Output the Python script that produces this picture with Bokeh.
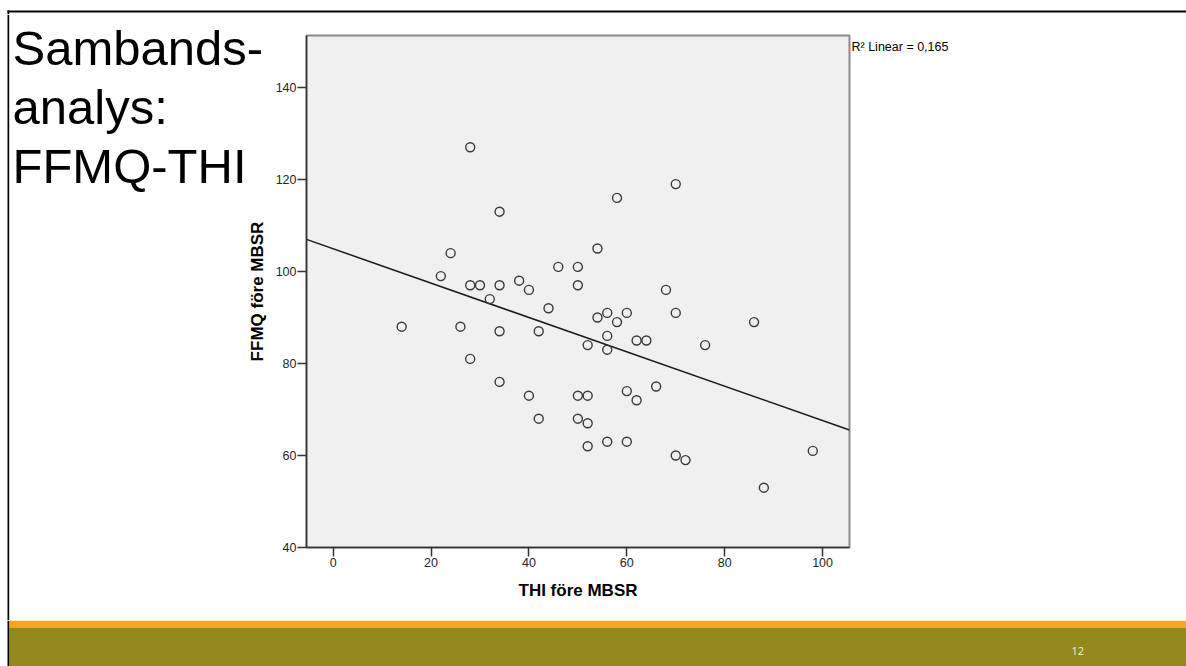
import numpy as np
from bokeh.plotting import figure
from bokeh.layouts import row, column
from bokeh.models import Range1d, FixedTicker, ColumnDataSource
from bokeh.core.properties import value
from bokeh.embed import file_html
from bokeh.resources import INLINE

# ---- data ----
thi = [28, 34, 24, 22, 28, 30, 34, 32, 38, 40,
       44, 14, 26, 34, 42, 28, 34, 40, 42,
       70, 58, 54, 46, 50, 50, 68, 54, 56, 58, 60,
       70, 86, 56, 62, 64, 52, 56, 76, 66, 60, 62,
       50, 52, 50, 52, 56, 60, 52, 70, 72, 98, 88]
ffmq = [127, 113, 104, 99, 97, 97, 97, 94, 98, 96,
        92, 88, 88, 87, 87, 81, 76, 73, 68,
        119, 116, 105, 101, 101, 97, 96, 90, 91, 89, 91,
        91, 89, 86, 85, 85, 84, 83, 84, 75, 74, 72,
        73, 73, 68, 67, 63, 63, 62, 60, 59, 61, 53]
x_ticks = [0, 20, 40, 60, 80, 100]
y_ticks = [40, 60, 80, 100, 120, 140]
x_title = "THI före MBSR"
y_title = "FFMQ före MBSR"
r2_text = "R² Linear = 0,165"
slide_title = ["Sambands-", "analys:", "FFMQ-THI"]
page_number = "12"

FONT = "Liberation Sans"
X_LO, X_HI = -5.45, 105.5
Y_LO, Y_HI = 40, 151.3

TOTAL_W = 1186
TOP_H, MID_H, BOT_H = 14, 606, 46
L_W, M_W = 272, 579
R_W = TOTAL_W - L_W - M_W

ORANGE = "#fba51c"
OLIVE = "#93891c"


def no_align(f):
    if "frame_align" in f.properties():
        f.frame_align = False
    return f


def blank(w, h):
    f = figure(width=w, height=h, output_backend="svg", toolbar_location=None,
               x_range=Range1d(0, w), y_range=Range1d(0, h),
               x_axis_location=None, y_axis_location=None, min_border=0)
    f.outline_line_color = None
    f.background_fill_color = "white"
    f.border_fill_color = "white"
    f.grid.visible = False
    return no_align(f)


# ---- top strip: slide border ----
top = blank(TOTAL_W, TOP_H)
top.quad(left=7, right=TOTAL_W, bottom=2, top=4, fill_color="black", line_color=None)
top.quad(left=7, right=8.7, bottom=0, top=4, fill_color="black", line_color=None)

# ---- left panel: slide title + y axis title ----
left = blank(L_W, MID_H)
left.quad(left=7, right=8.7, bottom=0, top=MID_H, fill_color="black", line_color=None)
left.text(x=[12, 12, 12], y=[573, 514, 455], text=slide_title,
          text_font=value(FONT), text_font_size="49px", text_color="black",
          text_align="left", text_baseline="middle")
left.text(x=[257.4], y=[329], text=[y_title], angle=np.pi / 2,
          text_font=value(FONT), text_font_size="17px", text_font_style="bold",
          text_color="black", text_align="center", text_baseline="middle")

# ---- main scatter ----
p = figure(width=M_W, height=MID_H, output_backend="svg", toolbar_location=None,
           x_range=Range1d(X_LO, X_HI), y_range=Range1d(Y_LO, Y_HI),
           min_border_left=34, min_border_right=2, min_border_top=21, min_border_bottom=73)
no_align(p)
p.background_fill_color = "#f0f0f0"
p.border_fill_color = "white"
p.outline_line_color = "#8c8c8c"
p.outline_line_width = 2
p.grid.visible = False

for ax in (p.xaxis[0], p.yaxis[0]):
    ax.axis_line_color = "#333333"
    ax.axis_line_width = 1.5
    ax.major_tick_line_color = "#333333"
    ax.major_tick_line_width = 1.5
    ax.major_tick_in = 0
    ax.major_tick_out = 9
    ax.minor_tick_line_color = None
    ax.major_label_text_font = FONT
    ax.major_label_text_font_size = "12.5px"
    ax.major_label_text_color = "#262626"
    ax.axis_label_text_font = FONT
    ax.axis_label_text_font_size = "17px"
    ax.axis_label_text_font_style = "bold"
    ax.axis_label_text_color = "black"

p.xaxis.ticker = FixedTicker(ticks=x_ticks)
p.yaxis.ticker = FixedTicker(ticks=y_ticks)
p.xaxis.major_label_standoff = 1
p.yaxis.major_label_standoff = 1
p.xaxis.axis_label = x_title
p.xaxis.axis_label_standoff = 11

slope, intercept = np.polyfit(np.array(thi, float), np.array(ffmq, float), 1)
line_x = [X_LO, X_HI]
line_y = [intercept + slope * v for v in line_x]
p.line(line_x, line_y, line_color="#1a1a1a", line_width=1.5)

src = ColumnDataSource(dict(x=thi, y=ffmq))
p.scatter("x", "y", source=src, marker="circle", size=9, fill_color=None,
          line_color="#3a3a3a", line_width=1.4)

# ---- right panel: R2 label ----
right = blank(R_W, MID_H)
right.text(x=[0], y=[573.3], text=[r2_text], text_font=value(FONT),
           text_font_size="12.5px", text_color="black",
           text_align="left", text_baseline="middle")

# ---- bottom band ----
bottom = blank(TOTAL_W, BOT_H)
bottom.quad(left=8.7, right=TOTAL_W, bottom=39, top=BOT_H, fill_color=ORANGE, line_color=None)
bottom.quad(left=8.7, right=TOTAL_W, bottom=0, top=39, fill_color=OLIVE, line_color=None)
bottom.quad(left=7, right=8.7, bottom=0, top=BOT_H, fill_color="black", line_color=None)
bottom.text(x=[1071], y=[16], text=[page_number], text_font=value("Open Sans"),
            text_font_size="11px", text_color="#f0efe0",
            text_align="left", text_baseline="middle")

layout = column(top, row(left, p, right, spacing=0), bottom, spacing=0)

open("out.html", "w").write(file_html(layout, INLINE))
